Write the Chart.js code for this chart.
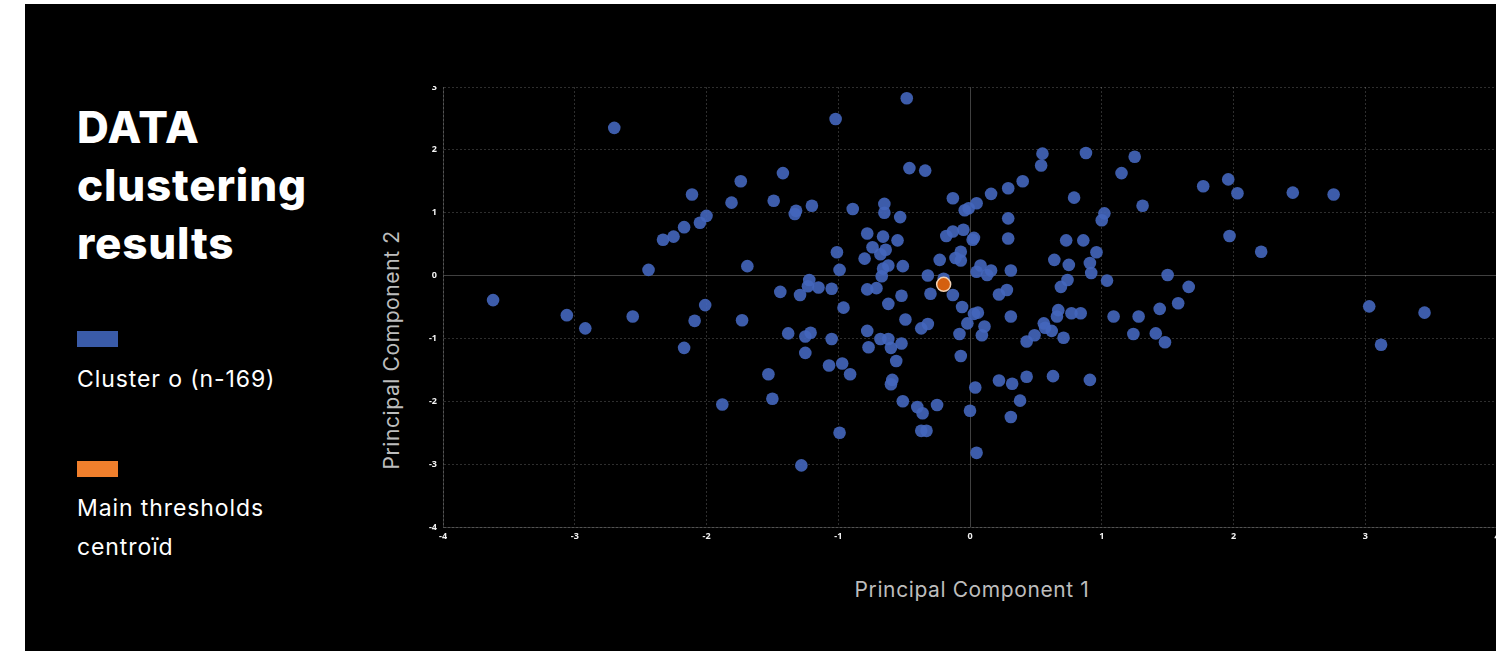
<!DOCTYPE html>
<html>
<head>
<meta charset="utf-8">
<script src="https://cdn.jsdelivr.net/npm/chart.js@4"></script>
<style>
  body { margin: 0; width: 1496px; height: 651px; background: #fff; overflow: hidden; position: relative; font-family: Inter, "Noto Sans", sans-serif; }
  #panel { position: absolute; left: 25px; top: 4px; right: 0; bottom: 0; background: #000; }
  .title { position: absolute; left: 77px; top: 98px; color: #fff; font-weight: 800; font-size: 44px; line-height: 58px; letter-spacing: 0.8px; }
  .swatch { position: absolute; left: 77px; width: 41px; height: 16px; }
  .legtxt { position: absolute; left: 77px; color: #fff; font-size: 23px; line-height: 39px; letter-spacing: 0.9px; }
  .axt { position: absolute; color: #bdbdbd; font-size: 21px; line-height: 21px; letter-spacing: 0.6px; white-space: nowrap; }
  #wrap { position: absolute; left: 400px; top: 86px; width: 1110px; height: 470px; overflow: hidden; }
  #myChart { position: absolute; left: 0; top: -11px; }
</style>
</head>
<body>
<div id="panel"></div>
<div class="title">DATA<br>clustering<br>results</div>
<div class="swatch" style="top:331px;background:#3a5ba8"></div>
<div class="legtxt" style="top:360px">Cluster o (n-169)</div>
<div class="swatch" style="top:461px;background:#f07f2c"></div>
<div class="legtxt" style="top:489px">Main thresholds<br>centroïd</div>
<div class="axt" style="left:972px;top:579px;transform:translateX(-50%)">Principal Component 1</div>
<div class="axt" style="left:391px;top:350px;transform:translate(-50%,-50%) rotate(-90deg)">Principal Component 2</div>
<div id="wrap"><canvas id="myChart" width="1110" height="480"></canvas></div>
<script>
// cluster 0 points (PC1, PC2)
const clusterX = [
  -0.48, -1.02, -0.46, -0.34, -1.42, -1.74, -2.11, -1.81, -1.49, -1.32,
  -1.33, -1.20, -0.89, -0.65, -0.65, -0.53, -0.13, 0.05, -0.04, -0.01,
  0.16, -2.00, -2.05, -2.17, -2.25, -2.33, -1.69, -1.01, -0.99, -0.78,
  -0.66, -0.74, -0.55, -0.64, -0.68, -0.80, -0.62, -0.66, -0.67, -0.51,
  -0.18, -0.13, -0.05, 0.02, 0.03, -0.07, -0.11, -0.07, -0.23, 0.08,
  0.05, 0.13, 0.16, -0.32, -0.20, -0.30, -0.13, 0.22, -0.06, -1.22,
  -1.23, -1.15, -1.05, -1.44, -1.29, -0.78, -0.71, -0.52, -0.62, -0.96,
  -2.01, 0.03, 0.06, -0.49, -0.37, -0.32, -0.02, 0.11, -0.08, 0.09,
  -2.09, -1.73, -2.17, -1.38, -1.25, -1.21, -1.05, -1.25, -0.78, -0.77,
  -0.68, -0.62, -0.60, -0.52, -0.56, -1.07, -0.97, -0.91, -1.53, -0.07,
  -0.59, -0.60, 0.22, 0.04, -1.88, -1.50, -0.51, -0.40, -0.36, -0.25,
  0.00, -0.99, -0.37, -0.33, 0.05, -1.28, 0.55, 0.54, 0.88, 1.25,
  1.15, 0.40, 0.29, 0.79, 1.77, 1.96, 2.03, 2.45, 2.76, 1.31,
  1.02, 1.00, 0.29, 0.29, 0.73, 0.86, 1.97, 2.21, 0.96, 0.64,
  0.75, 0.91, 0.92, 0.31, 1.50, 1.04, 0.74, 0.69, 1.66, 0.28,
  1.58, 1.44, 3.03, 3.45, 0.67, 0.77, 0.84, 0.31, 0.66, 0.56,
  0.57, 0.62, 0.49, 0.43, 0.71, 1.09, 1.28, 1.24, 1.41, 1.48,
  3.12, 0.32, 0.43, 0.63, 0.91, 0.38, 0.31, -2.70, -2.44, -3.62,
  -3.06, -2.92, -2.56
]
const clusterY = [
  2.82, 2.49, 1.71, 1.67, 1.63, 1.50, 1.29, 1.16, 1.19, 1.03,
  0.98, 1.11, 1.06, 1.14, 1.00, 0.93, 1.23, 1.15, 1.04, 1.07,
  1.30, 0.95, 0.84, 0.77, 0.62, 0.57, 0.15, 0.37, 0.09, 0.67,
  0.62, 0.45, 0.56, 0.41, 0.34, 0.27, 0.16, 0.11, -0.01, 0.15,
  0.63, 0.70, 0.73, 0.57, 0.60, 0.38, 0.28, 0.24, 0.25, 0.16,
  0.06, 0.01, 0.08, 0.00, -0.05, -0.29, -0.31, -0.30, -0.50, -0.07,
  -0.17, -0.19, -0.21, -0.26, -0.31, -0.22, -0.20, -0.32, -0.45, -0.51,
  -0.47, -0.61, -0.59, -0.70, -0.84, -0.77, -0.76, -0.81, -0.93, -0.95,
  -0.72, -0.71, -1.15, -0.92, -0.97, -0.91, -1.01, -1.23, -0.88, -1.14,
  -1.01, -1.01, -1.15, -1.08, -1.36, -1.43, -1.40, -1.57, -1.57, -1.28,
  -1.66, -1.73, -1.67, -1.78, -2.05, -1.96, -2.00, -2.09, -2.19, -2.06,
  -2.15, -2.50, -2.47, -2.47, -2.82, -3.02, 1.94, 1.75, 1.95, 1.89,
  1.63, 1.50, 1.39, 1.24, 1.42, 1.53, 1.31, 1.32, 1.29, 1.11,
  0.99, 0.88, 0.91, 0.59, 0.56, 0.56, 0.63, 0.38, 0.37, 0.25,
  0.17, 0.20, 0.04, 0.08, 0.01, -0.08, -0.07, -0.18, -0.18, -0.23,
  -0.44, -0.53, -0.49, -0.59, -0.55, -0.60, -0.60, -0.65, -0.65, -0.76,
  -0.83, -0.88, -0.95, -1.05, -0.99, -0.65, -0.65, -0.93, -0.92, -1.06,
  -1.10, -1.72, -1.61, -1.60, -1.66, -1.99, -2.25, 2.35, 0.09, -0.39,
  -0.63, -0.84, -0.65
]

// main thresholds centroid
const centroidX = [-0.20]
const centroidY = [-0.14]

const xTicks = [-4, -3, -2, -1, 0, 1, 2, 3, 4]
const yTicks = [-4, -3, -2, -1, 0, 1, 2, 3]

function pontos(xs, ys) {
  return xs.map((x, i) => ({ x: x, y: ys[i] }))
}

const gridColor = ctx => (ctx.tick && ctx.tick.value === 0) ? 'rgba(255,255,255,0.25)' : 'rgba(255,255,255,0.18)'
const gridDash = ctx => (ctx.tick && ctx.tick.value === 0) ? [] : [2, 2]
const tickFont = { family: 'Open Sans', size: 9, weight: 'bold' }

const ctx = document.getElementById('myChart')

const myChart = new Chart(ctx, {
  type: 'scatter',
  data: {
    datasets: [{
      label: 'Main thresholds centroïd',
      data: pontos(centroidX, centroidY),
      backgroundColor: '#d4600f',
      borderColor: '#f3d2b4',
      borderWidth: 1.5,
      pointRadius: 7
    }, {
      label: 'Cluster o (n-169)',
      data: pontos(clusterX, clusterY),
      backgroundColor: 'rgba(68,102,188,0.9)',
      borderWidth: 0,
      pointRadius: 6.3
    }]
  },
  options: {
    responsive: false,
    animation: false,
    events: [],
    layout: { padding: { top: 12, right: 13, left: 0, bottom: 0 } },
    plugins: { legend: { display: false }, tooltip: { enabled: false } },
    scales: {
      x: {
        type: 'linear',
        min: -4,
        max: 4,
        afterBuildTicks: s => { s.ticks = xTicks.map(v => ({ value: v })) },
        afterFit: s => { s.height = 28 },
        ticks: { color: '#f2f2f2', font: tickFont, padding: 4, maxRotation: 0 },
        grid: { color: gridColor, drawTicks: false },
        border: { color: 'rgba(255,255,255,0.18)', dash: gridDash }
      },
      y: {
        type: 'linear',
        min: -4,
        max: 3,
        afterBuildTicks: s => { s.ticks = yTicks.map(v => ({ value: v })) },
        afterFit: s => { s.width = 43 },
        ticks: { color: '#f2f2f2', font: tickFont, padding: 6 },
        grid: { color: gridColor, drawTicks: false },
        border: { color: 'rgba(255,255,255,0.18)', dash: gridDash }
      }
    }
  }
})
</script>
</body>
</html>
